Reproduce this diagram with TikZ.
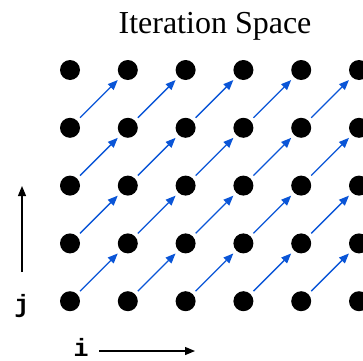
\documentclass[tikz,border=0pt]{standalone}
\usepackage{fontspec}
\setmainfont{Liberation Serif}
\newfontfamily\monofont{Liberation Mono}
\usetikzlibrary{arrows.meta}
\definecolor{arrowblue}{RGB}{10,85,215}
\tikzset{
  dot/.style={circle,fill=black,inner sep=0pt,minimum size=20pt},
  diag/.style={draw=arrowblue,line width=1.3pt,-{Triangle[length=10pt,width=8pt]},shorten <=4pt,shorten >=4pt},
  axis/.style={draw=black,line width=1.2pt,-{Triangle[length=10pt,width=8pt]}},
  axlabel/.style={font=\monofont\bfseries\fontsize{25}{25}\selectfont,inner sep=0pt},
  title/.style={font=\fontsize{32}{32}\selectfont,inner sep=0pt}
}
\begin{document}
\begin{tikzpicture}[x=1pt,y=1pt]
\useasboundingbox (0,0) rectangle (363,360);
\clip (0,0) rectangle (363,360);
\node[title,anchor=base] (title) at (215,327) {Iteration Space};
\foreach \c in {0,...,5}{
  \foreach \r in {0,...,4}{
    \node[dot] (d-\c-\r) at ({70+57.8*\c},{58.8+57.8*\r}) {};
  }
}
\foreach \c in {0,...,4}{
  \foreach \r in {0,...,3}{
    \pgfmathtruncatemacro{\cn}{\c+1}
    \pgfmathtruncatemacro{\rn}{\r+1}
    \draw[diag] (d-\c-\r) -- (d-\cn-\rn);
  }
}
\coordinate (jtail) at (22,88);
\coordinate (jhead) at (22,174);
\draw[axis] (jtail) -- (jhead);
\node[axlabel] (jlab) at (22,54) {j};
\coordinate (itail) at (99,9);
\coordinate (ihead) at (195,9);
\draw[axis] (itail) -- (ihead);
\node[axlabel] (ilab) at (81,12.5) {i};
\end{tikzpicture}
\end{document}
